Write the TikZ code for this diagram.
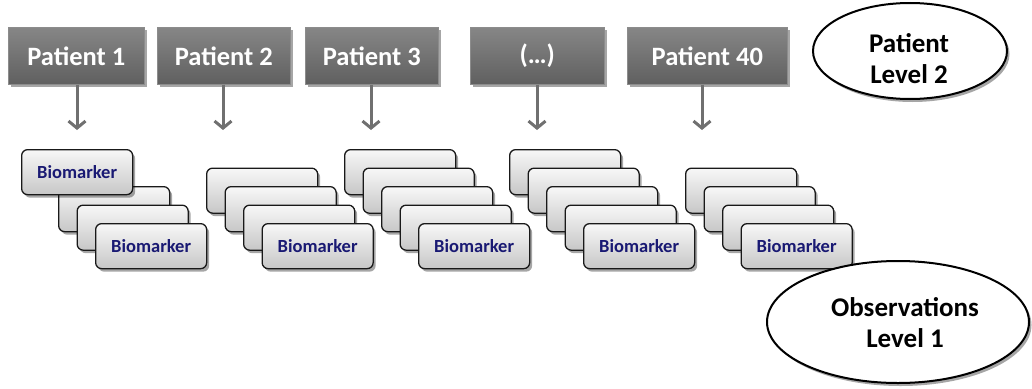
\documentclass[tikz,border=0pt]{standalone}
\usepackage{fontspec}
\setmainfont{Carlito}
\usetikzlibrary{shapes.geometric,shadows,arrows.meta}
\definecolor{navyb}{RGB}{25,25,115}
\definecolor{pgray}{RGB}{104,104,104}
\definecolor{agray}{RGB}{112,112,112}
\tikzset{
 myshadow/.style={drop shadow={shadow xshift=2.5pt,shadow yshift=-3pt,opacity=0.35,fill=black}},
 patbox/.style={anchor=north west, top color=pgray!80!white, middle color=pgray, bottom color=pgray!92!black,
   draw=black!45, line width=0.6pt,
   minimum height=57pt, text=white, font=\fontsize{26.5}{30}\selectfont\bfseries,
   inner sep=0pt, myshadow},
 card/.style={anchor=north west, minimum width=111pt, minimum height=45pt,
   rounded corners=6pt, draw=black!90, line width=1.3pt,
   top color=white!97!black, bottom color=black!22, text=navyb,
   font=\fontsize{18.5}{20}\selectfont\bfseries, inner sep=0pt,
   text height=11.8pt, text depth=0pt, myshadow},
 arrowdn/.style={draw=agray, line width=3pt, -{Straight Barb[length=7pt,width=17pt]}},
 lvl/.style={ellipse, draw=black, line width=2pt, fill=white, inner sep=0pt, myshadow},
 lvltext/.style={align=center, inner sep=0pt, font=\fontsize{27}{31}\selectfont\bfseries}
}
\begin{document}
\begin{tikzpicture}[x=1pt,y=-1pt]
\useasboundingbox (0,0) rectangle (1032,388);
% patient boxes
\node[patbox, minimum width=136pt] (p1) at (8,27) {Patient 1};
\node[patbox, minimum width=133pt] (p2) at (157,27) {Patient 2};
\node[patbox, minimum width=133pt] (p3) at (305,27) {Patient 3};
\node[patbox, minimum width=134pt] (p4) at (470,27) {(…)};
\node[patbox, minimum width=160pt] (p5) at (627,27) {Patient 40};
% arrow ends
\coordinate (e1) at (77,130);
\coordinate (e2) at (223,130);
\coordinate (e3) at (371,130);
\coordinate (e4) at (537,130);
\coordinate (e5) at (702,130);
\foreach \i in {1,...,5} {
  \draw[arrowdn] (p\i.south -| e\i) -- (e\i);
}
% biomarker cards (back cards are covered; text only where it is visible)
\foreach \g/\bx/\plist in {1/21/{2,3}, 2/187.5/{1,2,3}, 3/344/{0,1,2,3}, 4/509/{0,1,2,3}, 5/666.5/{1,2,3}} {
  \foreach \k in \plist {
    \node[card] (c\g-\k) at ({\bx+18.5*\k},{149+18.5*\k}) {};
  }
}
\node[card] (c1-0) at (21,149) {Biomarker};
\foreach \g/\bx in {1/21, 2/187.5, 3/344, 4/509, 5/666.5} {
  \node[card] (c\g-4) at ({\bx+74},223) {Biomarker};
}
% level ellipses
\node[lvl, minimum width=194pt, minimum height=96pt] (lv2) at (910,51) {};
\node[lvltext] (lv2t) at (909,59) {Patient\\Level 2};
\node[lvl, minimum width=262pt, minimum height=122pt] (lv1) at (898,322) {};
\node[lvltext] (lv1t) at (905,323) {Observations\\Level 1};
\end{tikzpicture}
\end{document}
